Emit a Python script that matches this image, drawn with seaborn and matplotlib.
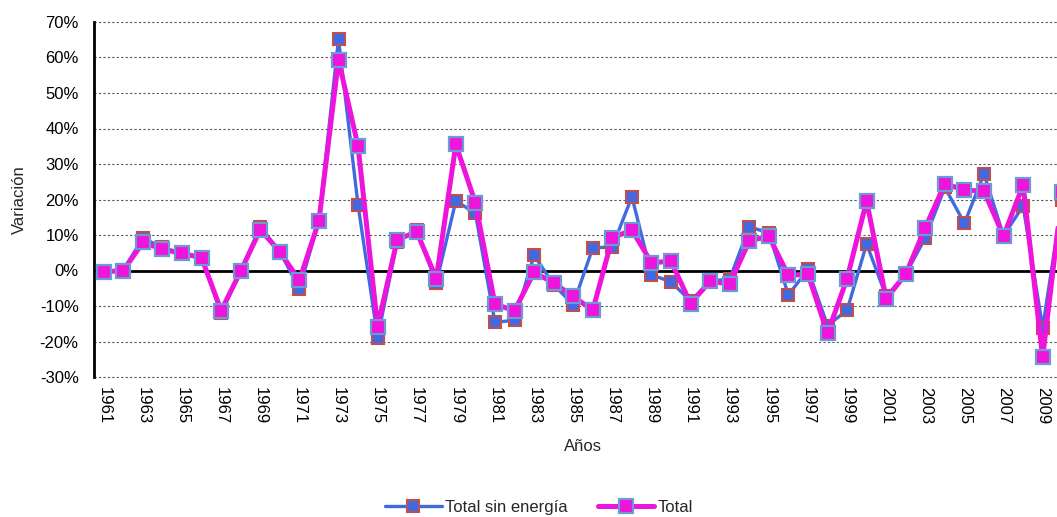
import pandas as pd
import seaborn as sns
import matplotlib.pyplot as plt
from matplotlib.ticker import PercentFormatter

# Años 1961-2010
years = list(range(1961, 2011))

# Variación anual (%) - Total sin energía
total_sin_energia = [
    -0.4, 0.2, 9.1, 6.5, 4.8, 3.6, -12.0, -0.2, 12.3, 5.3,
    -5.1, 14.0, 65.2, 18.4, -18.9, 8.1, 11.5, -3.5, 19.6, 16.1,
    -14.6, -14.0, 4.3, -4.0, -9.6, 6.4, 6.6, 20.8, -1.2, -3.2,
    -8.6, -3.0, -2.4, 12.3, 10.6, -6.9, 0.3, -15.5, -11.2, 7.5,
    -7.3, -1.0, 9.2, 23.4, 13.3, 27.2, 9.8, 18.2, -16.1, 19.8,
]

# Variación anual (%) - Total
total = [
    -0.4, 0.0, 7.9, 6.0, 4.8, 3.6, -11.3, -0.2, 11.5, 5.3,
    -2.8, 14.0, 59.3, 35.0, -15.8, 8.7, 10.9, -2.3, 35.5, 19.0,
    -9.5, -11.3, -0.5, -3.5, -7.3, -11.2, 9.2, 11.4, 2.2, 2.6,
    -9.3, -3.0, -3.8, 8.3, 9.7, -1.4, -1.0, -17.7, -2.3, 19.6,
    -8.0, -1.0, 12.1, 24.4, 22.7, 22.3, 9.7, 24.1, -24.5, 22.0,
]

df = pd.DataFrame({'Año': years, 'Total sin energía': total_sin_energia, 'Total': total})

sns.set_theme(style="white")
plt.rcParams['font.family'] = ['Liberation Sans', 'DejaVu Sans']
plt.rcParams['axes.unicode_minus'] = False

fig = plt.figure(figsize=(10.57, 5.17), dpi=100)
ax = fig.add_axes([94 / 1057, 1 - 377 / 517, 978 / 1057, 355 / 517])

sns.lineplot(x='Año', y='Total sin energía', data=df, ax=ax, color='#4169E1', linewidth=2.4,
             marker='s', markersize=8.5, markerfacecolor='#4169E1', markeredgecolor='#C0504D',
             markeredgewidth=1.5, label='Total sin energía', zorder=3)
sns.lineplot(x='Año', y='Total', data=df, ax=ax, color='#EE14DC', linewidth=3.6,
             marker='s', markersize=9.5, markerfacecolor='#EE14DC', markeredgecolor='#6A9BD1',
             markeredgewidth=1.6, label='Total', zorder=4)

ax.set_xlim(1960.5, 2010.5)
ax.set_ylim(-30, 70)
ax.set_yticks(range(-30, 71, 10))
ax.yaxis.set_major_formatter(PercentFormatter(decimals=0))
ax.set_xticks(years[::2])
ax.set_xticklabels([str(y) for y in years[::2]], rotation=-90)

# Líneas de cuadrícula punteadas y línea de cero
for v in range(-30, 71, 10):
    if v != 0:
        ax.axhline(v, color='#555555', linestyle=(0, (2, 2)), linewidth=0.8, zorder=1, clip_on=False)
ax.axhline(0, color='black', linewidth=2, zorder=2)

for s in ['top', 'right', 'bottom']:
    ax.spines[s].set_visible(False)
ax.spines['left'].set_color('black')
ax.spines['left'].set_linewidth(2)

ax.tick_params(axis='y', labelsize=12, pad=11, length=0, colors='black')
ax.tick_params(axis='x', labelsize=12, pad=7, length=0, colors='black')

ax.set_xlabel('Años', fontsize=12, labelpad=11)
ax.set_ylabel('Variación', fontsize=12, labelpad=9)

ax.legend_.remove()
handles, labels = ax.get_legend_handles_labels()
fig.legend(handles, labels, loc='center', bbox_to_anchor=(0.51, 0.018), ncol=2,
           frameon=False, fontsize=12, handlelength=3.4, columnspacing=1.8, handletextpad=0.2)

fig.savefig('out.png', dpi=100)
